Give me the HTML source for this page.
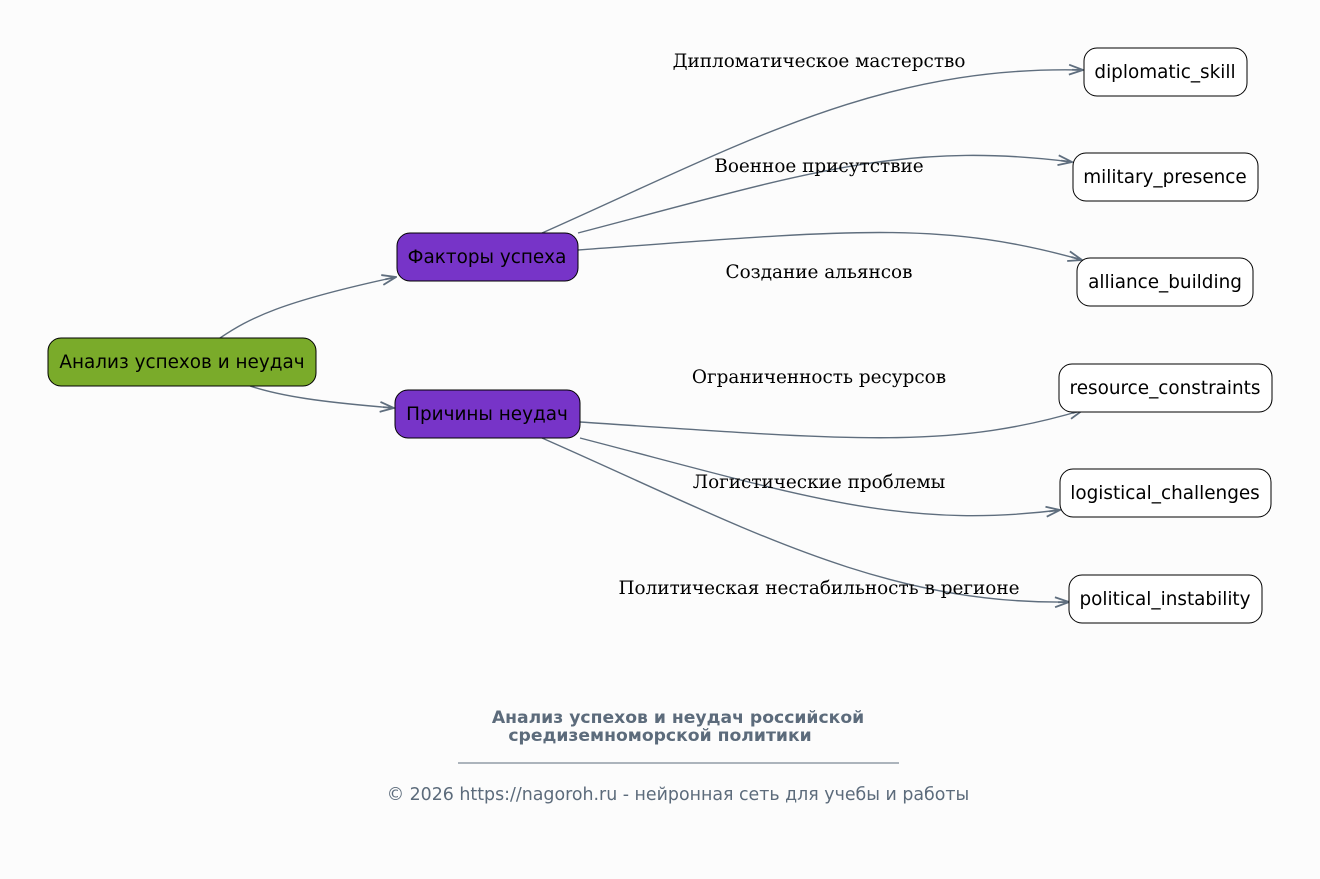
<!DOCTYPE html>
<html><head><meta charset="utf-8"><style>
body{margin:0;background:#fcfcfc;}
svg{display:block;}
.n{font-family:"DejaVu Sans","Liberation Sans",sans-serif;font-size:18.4px;fill:#000;text-anchor:middle;}
.l{font-family:"DejaVu Serif","Liberation Serif",serif;font-size:18.4px;fill:#000;text-anchor:middle;}
.e{fill:none;stroke:#5f6e7e;stroke-width:1.4;}
</style></head><body>
<svg width="1320" height="879" viewBox="0 0 1320 879">
<defs><marker id="a" markerWidth="16" markerHeight="12" refX="15" refY="6" orient="auto" markerUnits="userSpaceOnUse"><path d="M1,1 L15,6 L1,11 M15,6 L4,6" fill="none" stroke="#5f6e7e" stroke-width="1.8"/></marker></defs>
<rect width="1320" height="879" fill="#fcfcfc"/>
<path class="e" marker-end="url(#a)" d="M220,338 C250,318 280,302 396,277"/>
<path class="e" marker-end="url(#a)" d="M250,386 C280,396 320,402 394,408"/>
<path class="e" marker-end="url(#a)" d="M542,233 C740,145 880,65 1083,70"/>
<path class="e" marker-end="url(#a)" d="M578,233 C800,175 900,140 1072,162"/>
<path class="e" marker-end="url(#a)" d="M578,250 C850,230 940,220 1082,260"/>
<path class="e" marker-end="url(#a)" d="M580,422 C850,440 950,450 1083,410"/>
<path class="e" marker-end="url(#a)" d="M580,438 C800,495 900,530 1060,510"/>
<path class="e" marker-end="url(#a)" d="M542,438 C740,525 880,605 1069,602"/>
<text class="l" x="819" y="67">Дипломатическое мастерство</text>
<text class="l" x="819" y="172">Военное присутствие</text>
<text class="l" x="819" y="278">Создание альянсов</text>
<text class="l" x="819" y="383">Ограниченность ресурсов</text>
<text class="l" x="819" y="488">Логистические проблемы</text>
<text class="l" x="819" y="594">Политическая нестабильность в регионе</text>
<rect x="48" y="338" width="268" height="48" rx="13" fill="#7aab2a" stroke="#000"/>
<text class="n" x="182" y="368">Анализ успехов и неудач</text>
<rect x="397" y="233" width="181" height="48" rx="13" fill="#7734c8" stroke="#000"/>
<text class="n" x="487" y="263">Факторы успеха</text>
<rect x="395" y="390" width="185" height="48" rx="13" fill="#7734c8" stroke="#000"/>
<text class="n" x="487" y="420">Причины неудач</text>
<rect x="1084" y="48" width="163" height="48" rx="13" fill="#fff" stroke="#000"/>
<text class="n" x="1165" y="78">diplomatic_skill</text>
<rect x="1073" y="153" width="185" height="48" rx="13" fill="#fff" stroke="#000"/>
<text class="n" x="1165" y="183">military_presence</text>
<rect x="1077" y="258" width="176" height="48" rx="13" fill="#fff" stroke="#000"/>
<text class="n" x="1165" y="288">alliance_building</text>
<rect x="1059" y="364" width="213" height="48" rx="13" fill="#fff" stroke="#000"/>
<text class="n" x="1165" y="394">resource_constraints</text>
<rect x="1060" y="469" width="211" height="48" rx="13" fill="#fff" stroke="#000"/>
<text class="n" x="1165" y="499">logistical_challenges</text>
<rect x="1069" y="575" width="193" height="48" rx="13" fill="#fff" stroke="#000"/>
<text class="n" x="1165" y="605">political_instability</text>
<text x="678" y="723" font-family="DejaVu Sans,sans-serif" font-size="17.2" font-weight="bold" fill="#5c6b7b" text-anchor="middle">Анализ успехов и неудач российской</text>
<text x="660" y="741" font-family="DejaVu Sans,sans-serif" font-size="17.2" font-weight="bold" fill="#5c6b7b" text-anchor="middle">средиземноморской политики</text>
<line x1="458" y1="763" x2="899" y2="763" stroke="#5c6b7b" stroke-width="1"/>
<text x="678" y="800" font-family="DejaVu Sans,sans-serif" font-size="17.4" fill="#5c6b7b" text-anchor="middle">© 2026 https://nagoroh.ru - нейронная сеть для учебы и работы</text>
</svg>
</body></html>
